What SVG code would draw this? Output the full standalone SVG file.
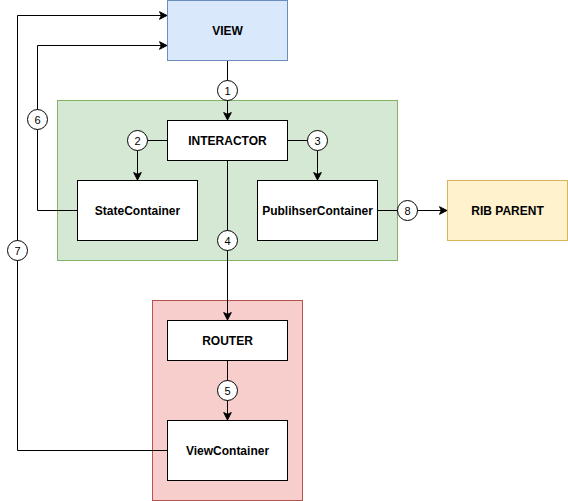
<svg xmlns="http://www.w3.org/2000/svg" width="568" height="501" viewBox="0 0 568 501">
  <style>
    .box { fill: #ffffff; stroke: #000000; stroke-width: 1; }
    .lbl { font-family: "Liberation Sans", Arial, Helvetica, sans-serif; font-size: 12px; font-weight: bold; fill: #000000; text-anchor: middle; dominant-baseline: central; }
    .num { font-family: "Liberation Sans", Arial, Helvetica, sans-serif; font-size: 11px; fill: #000000; text-anchor: middle; dominant-baseline: central; }
    .edge { fill: none; stroke: #000000; stroke-width: 1; }
    .badge { fill: #ffffff; stroke: #000000; stroke-width: 1; }
  </style>
  <defs>
    <marker id="arrow" markerUnits="userSpaceOnUse" markerWidth="10" markerHeight="10" viewBox="-8 -5 10 10" refX="0" refY="0" orient="auto">
      <path d="M 0 0 L -7.5 -3.8 L -5.6 0 L -7.5 3.8 Z" fill="#000000" stroke="#000000" stroke-width="1" stroke-linejoin="miter"/>
    </marker>
  </defs>

  <!-- containers -->
  <g id="interactor-group">
    <rect x="57.5" y="100.5" width="340" height="160" fill="#d5e8d4" stroke="#82b366"/>
  </g>
  <g id="router-group">
    <rect x="152.5" y="300.5" width="150" height="200" fill="#f8cecc" stroke="#b85450"/>
  </g>

  <!-- connectors -->
  <g id="connectors">
    <path class="edge" d="M 227.5 60.5 L 227.5 120" marker-end="url(#arrow)"/>
    <path class="edge" d="M 167.5 140.5 L 137.5 140.5 L 137.5 180" marker-end="url(#arrow)"/>
    <path class="edge" d="M 287.5 140.5 L 317.5 140.5 L 317.5 180" marker-end="url(#arrow)"/>
    <path class="edge" d="M 227.5 160.5 L 227.5 320" marker-end="url(#arrow)"/>
    <path class="edge" d="M 227.5 360.5 L 227.5 420" marker-end="url(#arrow)"/>
    <path class="edge" d="M 77.5 210.5 L 37.5 210.5 L 37.5 45.5 L 167 45.5" marker-end="url(#arrow)"/>
    <path class="edge" d="M 167.5 450.5 L 17.5 450.5 L 17.5 15.5 L 167 15.5" marker-end="url(#arrow)"/>
    <path class="edge" d="M 377.5 210.5 L 447 210.5" marker-end="url(#arrow)"/>

    <g id="badge-1"><circle class="badge" cx="227.5" cy="90.5" r="10"/><text class="num" x="227.5" y="90.5">1</text></g>
    <g id="badge-2"><circle class="badge" cx="137.5" cy="140.5" r="10"/><text class="num" x="137.5" y="140.5">2</text></g>
    <g id="badge-3"><circle class="badge" cx="317.5" cy="140.5" r="10"/><text class="num" x="317.5" y="140.5">3</text></g>
    <g id="badge-4"><circle class="badge" cx="227.5" cy="240.5" r="10"/><text class="num" x="227.5" y="240.5">4</text></g>
    <g id="badge-5"><circle class="badge" cx="227.5" cy="390.5" r="10"/><text class="num" x="227.5" y="390.5">5</text></g>
    <g id="badge-6"><circle class="badge" cx="37.5" cy="119.5" r="10"/><text class="num" x="37.5" y="119.5">6</text></g>
    <g id="badge-7"><circle class="badge" cx="17.5" cy="250.5" r="10"/><text class="num" x="17.5" y="250.5">7</text></g>
    <g id="badge-8"><circle class="badge" cx="407.5" cy="210.5" r="10"/><text class="num" x="407.5" y="210.5">8</text></g>
  </g>

  <!-- nodes -->
  <g id="view">
    <rect x="167.5" y="0.5" width="120" height="60" fill="#dae8fc" stroke="#6c8ebf"/>
    <text class="lbl" x="227.5" y="30.5">VIEW</text>
  </g>
  <g id="interactor">
    <rect class="box" x="167.5" y="120.5" width="120" height="40"/>
    <text class="lbl" x="227.5" y="140.5">INTERACTOR</text>
  </g>
  <g id="state-container">
    <rect class="box" x="77.5" y="180.5" width="120" height="60"/>
    <text class="lbl" x="137.5" y="210.5">StateContainer</text>
  </g>
  <g id="publisher-container">
    <rect class="box" x="257.5" y="180.5" width="120" height="60"/>
    <text class="lbl" x="317.5" y="210.5">PublihserContainer</text>
  </g>
  <g id="rib-parent">
    <rect x="447.5" y="180.5" width="120" height="60" fill="#fff2cc" stroke="#d6b656"/>
    <text class="lbl" x="507.5" y="210.5">RIB PARENT</text>
  </g>
  <g id="router">
    <rect class="box" x="167.5" y="320.5" width="120" height="40"/>
    <text class="lbl" x="227.5" y="340.5">ROUTER</text>
  </g>
  <g id="view-container">
    <rect class="box" x="167.5" y="420.5" width="120" height="60"/>
    <text class="lbl" x="227.5" y="450.5">ViewContainer</text>
  </g>
</svg>
